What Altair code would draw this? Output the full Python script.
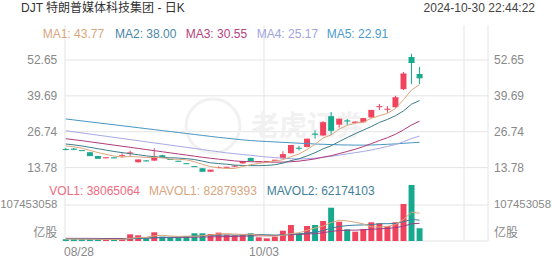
import altair as alt
import pandas as pd

# ---------------- data ----------------
opens = [20.50, 20.55, 20.00, 19.33, 17.99, 17.25, 17.35, 17.95, 19.00, 15.72,
         16.25, 16.30, 18.25, 16.80, 16.15, 15.25, 14.20, 13.55, 12.29, 13.80,
         13.88, 14.25, 15.29, 17.27, 15.88, 15.95, 16.35, 17.16, 18.97, 20.85,
         21.24, 25.95, 25.39, 32.36, 29.29, 30.70, 29.95, 30.16, 31.89, 35.70,
         34.80, 35.58, 42.11, 53.73, 47.60]
highs = [20.90, 20.85, 20.10, 19.45, 18.05, 17.45, 17.45, 18.97, 19.91, 16.65,
         16.50, 20.77, 18.40, 16.85, 16.20, 15.30, 14.25, 13.60, 12.95, 14.20,
         14.00, 14.70, 16.20, 17.40, 16.05, 16.10, 16.60, 19.70, 21.90, 21.60,
         24.20, 27.25, 30.63, 33.88, 31.40, 31.35, 30.50, 31.60, 34.60, 36.75,
         36.00, 39.73, 48.30, 54.92, 50.12]
lows = [20.00, 20.10, 19.80, 18.00, 17.05, 17.15, 17.15, 17.40, 17.99, 15.60,
        15.95, 16.20, 17.30, 16.65, 16.00, 15.10, 14.05, 12.40, 12.20, 13.50,
        13.80, 13.95, 15.20, 16.15, 15.80, 15.85, 16.25, 17.05, 18.85, 19.95,
        21.10, 24.25, 25.30, 25.57, 28.28, 29.00, 29.75, 30.05, 31.80, 34.60,
        33.60, 35.45, 41.82, 43.90, 43.99]
closes = [20.35, 20.40, 19.91, 18.10, 17.16, 17.32, 17.28, 18.05, 19.08, 16.55,
          16.19, 17.52, 17.38, 16.73, 16.08, 15.18, 14.13, 12.47, 12.87, 13.84,
          13.91, 14.31, 15.94, 16.26, 15.94, 16.00, 16.45, 18.46, 21.78, 20.77,
          24.06, 25.86, 29.98, 27.27, 31.28, 30.63, 30.20, 31.46, 34.45, 35.79,
          34.89, 39.00, 47.60, 51.75, 46.20]
volumes = [5100000, 5100000, 5100000, 5100000, 5100000, 3000000, 3000000, 8000000,
           20000000, 17000000, 8000000, 26000000, 13000000, 11000000, 10000000,
           13000000, 23000000, 23000000, 21000000, 25000000, 18000000, 17000000,
           18000000, 23000000, 11000000, 8000000, 13000000, 30700000, 47800000,
           23000000, 44800000, 47800000, 59700000, 99400000, 57600000, 34900000,
           27800000, 35800000, 55800000, 52800000, 44800000, 55800000, 110400000,
           167200000, 38065064]

ma1 = [21.6, 21.3, 20.8, 20.0, 19.19, 18.58, 17.95, 17.58, 17.78, 17.66, 17.43,
       17.48, 17.34, 16.87, 16.78, 16.58, 15.9, 14.92, 14.15, 13.70, 13.44, 13.48,
       14.17, 14.85, 15.27, 15.69, 16.12, 16.62, 17.73, 18.69, 20.30, 22.19, 24.49,
       25.59, 27.69, 29.0, 29.87, 30.17, 31.6, 32.51, 33.36, 35.12, 38.35, 41.81, 43.77]
ma2 = [22.3, 22.0, 21.6, 21.1, 20.6, 20.1, 19.6, 19.2, 18.8, 18.43, 18.01, 17.72,
       17.46, 17.33, 17.22, 17.01, 16.69, 16.13, 15.51, 15.24, 15.01, 14.69, 14.55,
       14.50, 14.49, 14.57, 14.80, 15.40, 16.29, 16.98, 18.0, 19.15, 20.56, 21.66,
       23.19, 24.65, 26.03, 27.33, 28.60, 30.10, 31.18, 32.50, 34.26, 36.71, 38.00]
ma3 = [24.2, 23.85, 23.5, 23.1, 22.7, 22.3, 21.9, 21.5, 21.1, 20.7, 20.3, 19.9,
       19.5, 19.1, 18.7, 18.3, 17.9, 17.5, 17.15, 16.83, 16.51, 16.20, 16.0, 15.91,
       15.85, 15.79, 15.74, 15.76, 15.90, 16.11, 16.50, 16.92, 17.55, 18.08, 18.84,
       19.61, 20.41, 21.36, 22.44, 23.54, 24.59, 25.82, 27.41, 29.18, 30.55]
ma4 = [27.1, 26.7, 26.3, 25.9, 25.5, 25.1, 24.7, 24.3, 23.9, 23.5, 23.1, 22.7,
       22.3, 21.9, 21.5, 21.1, 20.7, 20.3, 19.9, 19.5, 19.1, 18.8, 18.5, 18.2, 17.9,
       17.6, 17.4, 17.2, 17.0, 16.88, 17.01, 17.19, 17.52, 17.83, 18.30, 18.74,
       19.17, 19.62, 20.13, 20.77, 21.40, 22.11, 23.12, 24.29, 25.17]
ma5 = [31.35, 31.0, 30.65, 30.3, 29.95, 29.6, 29.25, 28.9, 28.55, 28.2, 27.85,
       27.5, 27.15, 26.8, 26.45, 26.1, 25.75, 25.4, 25.05, 24.7, 24.4, 24.1, 23.8,
       23.55, 23.35, 23.2, 23.05, 22.9, 22.75, 22.6, 22.45, 22.3, 22.2, 22.1, 22.0,
       21.95, 21.9, 21.9, 21.95, 22.05, 22.2, 22.35, 22.55, 22.75, 22.91]
mavol1 = [6.0, 5.8, 5.5, 5.3, 5.1, 4.7, 4.26, 4.84, 7.82, 10.2, 11.2, 15.8, 16.8,
          15.0, 13.6, 14.6, 14.0, 16.0, 18.0, 21.0, 22.0, 20.8, 19.8, 20.2, 17.4,
          15.4, 14.6, 17.1, 22.1, 24.5, 31.9, 38.8, 44.6, 54.9, 61.9, 59.9, 55.9,
          51.1, 42.4, 41.4, 43.4, 49.0, 63.9, 86.2, 82.879393]
mavol2 = [6.5, 6.3, 6.0, 5.8, 5.7, 5.5, 5.3, 5.4, 6.5, 7.65, 7.94, 10.03, 10.82,
          11.41, 11.9, 12.9, 14.9, 16.4, 16.5, 17.3, 18.3, 17.4, 17.9, 19.1, 19.2,
          18.7, 17.7, 18.5, 21.2, 21.0, 23.6, 26.7, 30.9, 38.5, 43.2, 45.9, 47.4,
          47.9, 48.7, 51.6, 51.6, 52.4, 57.5, 64.3, 62.174103]
mavol3 = [8.0, 7.9, 7.8, 7.7, 7.6, 7.4, 7.3, 7.4, 8.0, 8.5, 8.7, 9.5, 9.9, 10.2,
          10.5, 10.9, 11.5, 12.0, 12.3, 12.5, 13.1, 13.7, 14.4, 15.3, 15.6, 15.8,
          16.3, 17.4, 18.8, 19.1, 21.0, 22.1, 24.4, 28.8, 31.2, 32.3, 32.5, 33.2,
          34.9, 36.3, 37.6, 39.6, 44.2, 51.4, 52.8]

price_ticks = [13.78, 26.74, 39.69, 52.65]
price_tick_labels = ["13.78", "26.74", "39.69", "52.65"]
vol_ticks = [107453058, 0]
vol_tick_labels = ["107453058", "亿股"]
date_labels = ["08/28", "10/03"]
date_label_index = [0, 24.65]
grid_index = [24.65, 49.53]

title_text = "DJT 特朗普媒体科技集团 - 日K"
time_text = "2024-10-30  22:44:22"
ma_legend = ["MA1: 43.77", "MA2: 38.00", "MA3: 30.55", "MA4: 25.17", "MA5: 22.91"]
vol_legend = ["VOL1: 38065064", "MAVOL1: 82879393", "MAVOL2: 62174103"]

# ---------------- styling ----------------
W, H = 423, 216
FONT = "Liberation Sans, Arial, Noto Sans CJK SC, sans-serif"
RED = "#f0445e"
TEAL = "#17a98d"
GRID = "#e4e4e4"
LABEL = "#888888"
MA_COLORS = ["#dba77c", "#3c7d8c", "#b03b7a", "#a8a8e6", "#4796c4"]
MA_TEXT_COLORS = ["#d8a67e", "#4a87a5", "#b5427d", "#a0a4e0", "#4c9bd0"]
VOL_TEXT_COLORS = ["#f06b80", "#d8a67e", "#3f7f9a"]
MAVOL_COLORS = ["#dba77c", "#3c7d9c", "#9a3f86"]
WM = "#f1f1f1"

XS = alt.Scale(domain=[-0.1, 52.51], nice=False, zero=False)
PS = alt.Scale(domain=[-12.736, 65.294], nice=False, zero=False)
VS = alt.Scale(domain=[0, 644718348], nice=False, zero=False)

n = len(closes)
df = pd.DataFrame({
    "i": list(range(n)), "open": opens, "high": highs, "low": lows,
    "close": closes, "vol": volumes,
    "ma1": ma1, "ma2": ma2, "ma3": ma3, "ma4": ma4, "ma5": ma5,
    "mv1": [v * 1e6 for v in mavol1], "mv2": [v * 1e6 for v in mavol2],
    "mv3": [v * 1e6 for v in mavol3],
})

up_color = alt.when(alt.datum.close >= alt.datum.open).then(alt.value(RED)).otherwise(alt.value(TEAL))
X = alt.X("i:Q", scale=XS, axis=None)
base = alt.Chart(df)


def txt(s, x, y, color, align="left", baseline="middle", size=12, weight="normal"):
    return alt.Chart(pd.DataFrame({"t": [s]})).mark_text(
        align=align, baseline=baseline, fontSize=size, font=FONT, color=color,
        fontWeight=weight
    ).encode(x=alt.value(x), y=alt.value(y), text="t:N")


# ---------------- price pane ----------------
pt = pd.DataFrame({"tick": price_ticks, "label": price_tick_labels})
hgrid = alt.Chart(pt).mark_rule(color=GRID, strokeWidth=1).encode(
    y=alt.Y("tick:Q", scale=PS, axis=None), x=alt.value(0), x2=alt.value(W))

watermark_circle = alt.Chart(pd.DataFrame({"a": [1]})).mark_point(
    shape="circle", size=2900, filled=False, strokeWidth=3, color=WM, opacity=1
).encode(x=alt.value(148), y=alt.value(101))
watermark_text = txt("老虎证券", 242, 103, WM, align="center", size=28, weight="bold")

wicks = base.mark_rule(strokeWidth=1).encode(
    x=X, y=alt.Y("low:Q", scale=PS, axis=None), y2="high:Q", color=up_color)
bodies = base.transform_calculate(xa="datum.i - 0.37", xb="datum.i + 0.37").mark_rect().encode(
    x=alt.X("xa:Q", scale=XS, axis=None), x2="xb:Q",
    y=alt.Y("open:Q", scale=PS, axis=None), y2="close:Q", color=up_color)
dashes = base.transform_calculate(xa="datum.i - 0.37", xb="datum.i + 0.37").mark_rule(strokeWidth=1).encode(
    x=alt.X("xa:Q", scale=XS, axis=None), x2="xb:Q",
    y=alt.Y("close:Q", scale=PS, axis=None), color=up_color)

ma_lines = [
    base.mark_line(color=c, strokeWidth=1).encode(x=X, y=alt.Y(f"ma{k + 1}:Q", scale=PS, axis=None))
    for k, c in enumerate(MA_COLORS)
]

plabels_l = alt.Chart(pt).mark_text(align="right", baseline="middle", fontSize=12, font=FONT, color=LABEL).encode(
    x=alt.value(-7.7), y=alt.Y("tick:Q", scale=PS, axis=None), text="label:N")
plabels_r = alt.Chart(pt).mark_text(align="left", baseline="middle", fontSize=12, font=FONT, color=LABEL).encode(
    x=alt.value(429), y=alt.Y("tick:Q", scale=PS, axis=None), text="label:N")

price = alt.layer(hgrid, watermark_circle, watermark_text, wicks, bodies, dashes,
                  ma_lines[4], ma_lines[3], ma_lines[2], ma_lines[1], ma_lines[0],
                  plabels_l, plabels_r)

# ---------------- volume pane ----------------
vt = pd.DataFrame({"tick": vol_ticks, "label": vol_tick_labels})
vgrid_h = alt.Chart(vt).mark_rule(color=GRID, strokeWidth=1).encode(
    y=alt.Y("tick:Q", scale=VS, axis=None), x=alt.value(0), x2=alt.value(W))
vbars = base.transform_calculate(xa="datum.i - 0.37", xb="datum.i + 0.37").mark_rect().encode(
    x=alt.X("xa:Q", scale=XS, axis=None), x2="xb:Q",
    y=alt.Y("vol:Q", scale=VS, axis=None), y2=alt.datum(0), color=up_color)
mv_lines = [
    base.mark_line(color=c, strokeWidth=1).encode(x=X, y=alt.Y(f"mv{k + 1}:Q", scale=VS, axis=None))
    for k, c in enumerate(MAVOL_COLORS)
]
vt_top = vt.iloc[[0]]
vt_bot = vt.iloc[[1]]
vl1 = alt.Chart(vt_top).mark_text(align="right", baseline="middle", fontSize=11.4, font=FONT, color=LABEL).encode(
    x=alt.value(-7.7), y=alt.Y("tick:Q", scale=VS, axis=None), text="label:N")
vr1 = alt.Chart(vt_top).mark_text(align="left", baseline="middle", fontSize=11.4, font=FONT, color=LABEL).encode(
    x=alt.value(429), y=alt.Y("tick:Q", scale=VS, axis=None), text="label:N")
vl2 = alt.Chart(vt_bot).mark_text(align="right", baseline="bottom", fontSize=12, font=FONT, color=LABEL, dy=-1).encode(
    x=alt.value(-7.7), y=alt.Y("tick:Q", scale=VS, axis=None), text="label:N")
vr2 = alt.Chart(vt_bot).mark_text(align="left", baseline="bottom", fontSize=12, font=FONT, color=LABEL, dy=-1).encode(
    x=alt.value(429), y=alt.Y("tick:Q", scale=VS, axis=None), text="label:N")

vol = alt.layer(vgrid_h, vbars, mv_lines[2], mv_lines[1], mv_lines[0], vl1, vr1, vl2, vr2)

# ---------------- frame, x labels, texts ----------------
gx = pd.DataFrame({"gx": [-0.1] + grid_index + [52.51]})
vgrid = alt.Chart(gx).mark_rule(color=GRID, strokeWidth=1).encode(
    x=alt.X("gx:Q", scale=XS, axis=None), y=alt.value(0), y2=alt.value(H))

dl = pd.DataFrame({"pos": date_label_index, "t": date_labels})
xl_first = alt.Chart(dl.iloc[[0]]).mark_text(align="left", baseline="middle", fontSize=12, font=FONT, color=LABEL).encode(
    x=alt.value(-1), y=alt.value(227), text="t:N")
xl_rest = alt.Chart(dl.iloc[1:]).mark_text(align="center", baseline="middle", fontSize=12, font=FONT, color=LABEL).encode(
    x=alt.X("pos:Q", scale=XS, axis=None), y=alt.value(227), text="t:N")

deco = [
    txt(title_text, -44, -17.5, "#333333"),
    txt(time_text, 470, -17.5, "#444444", align="right"),
]
ma_x = [-22.3, 50, 120.7, 191.7, 261.7]
for s, c, xx in zip(ma_legend, MA_TEXT_COLORS, ma_x):
    deco.append(txt(s, xx, 9, c))
vol_x = [-15.7, 84, 201.7]
for s, c, xx in zip(vol_legend, VOL_TEXT_COLORS, vol_x):
    deco.append(txt(s, xx, 166, c))

chart = alt.layer(vgrid, price, vol, xl_first, xl_rest, *deco).resolve_scale(
    y="independent"
).properties(
    width=W, height=H,
    padding={"left": 65, "top": 25, "right": 64, "bottom": 24},
    autosize=alt.AutoSizeParams(type="none"),
    background="white",
).configure_view(strokeWidth=0)

chart.save("out.html", embed_options={"renderer": "svg", "actions": False})
